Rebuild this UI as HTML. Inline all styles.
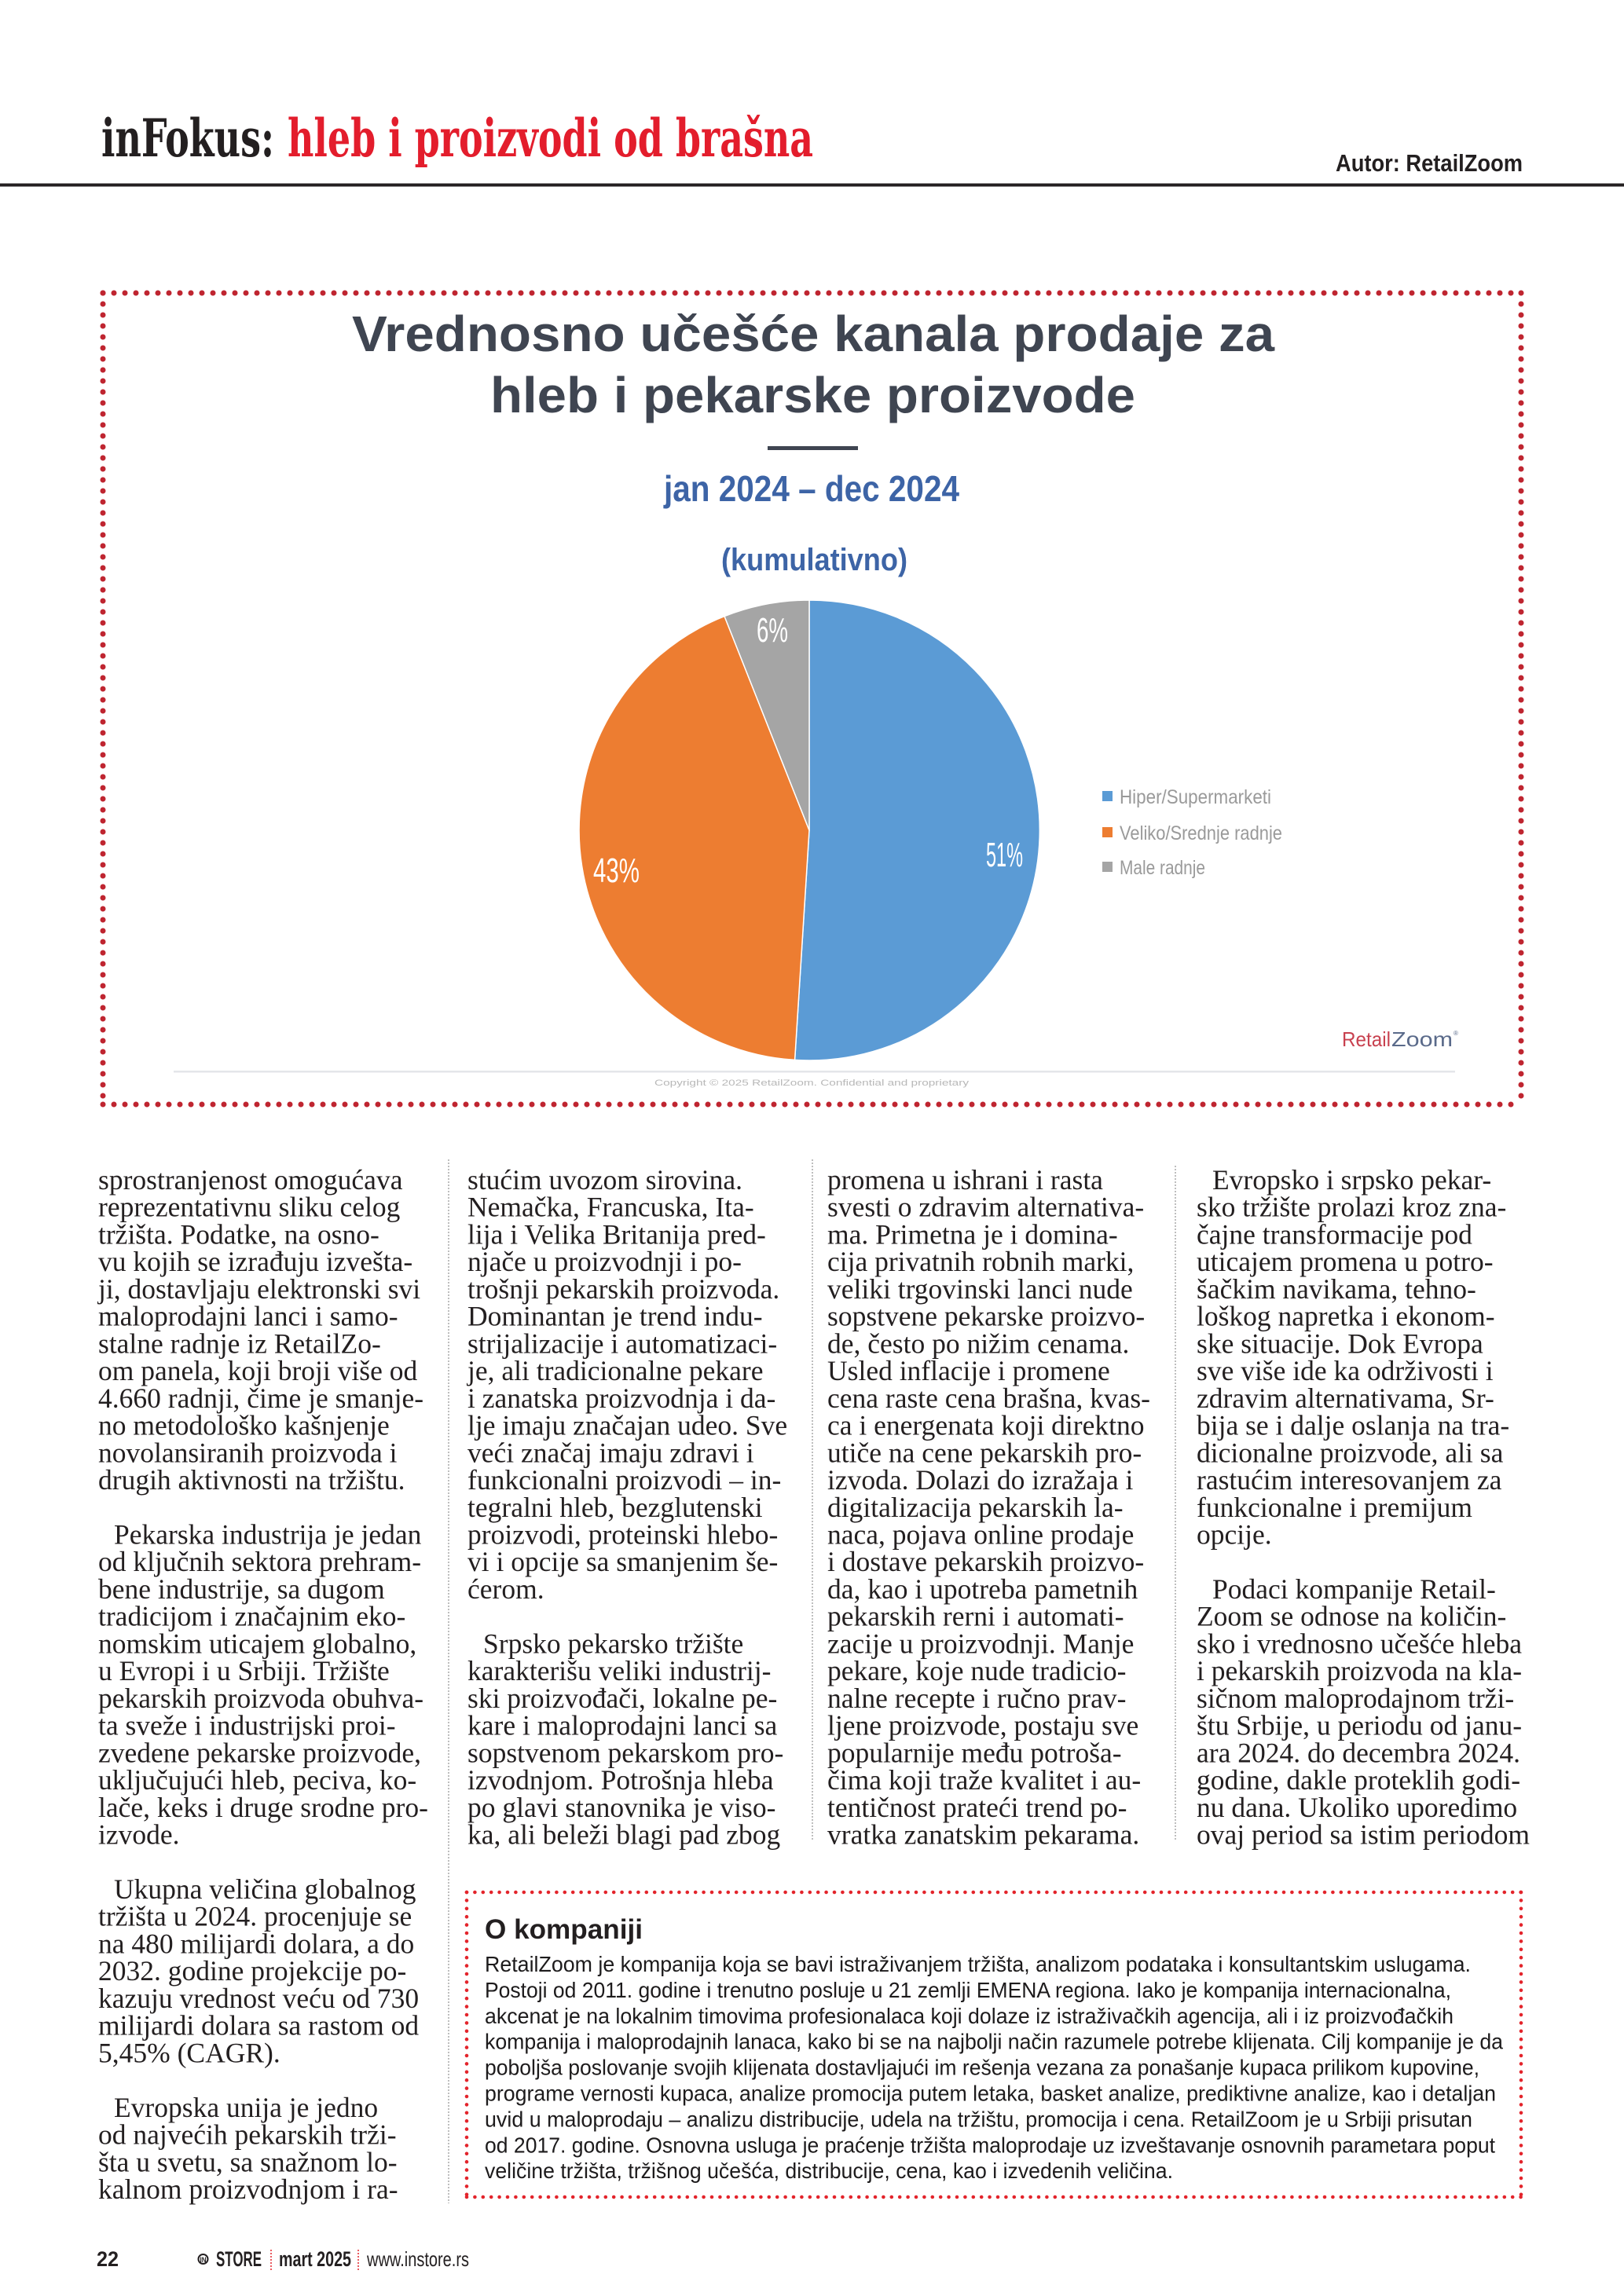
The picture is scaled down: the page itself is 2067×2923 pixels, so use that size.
<!DOCTYPE html>
<html>
<head>
<meta charset="utf-8">
<style>
html,body{margin:0;padding:0;background:#fff;}
svg{display:block;}
.b{font-family:"Liberation Serif","DejaVu Serif",serif;font-size:35.5px;fill:#231f20;}
.k{font-family:"Liberation Sans","DejaVu Sans",sans-serif;font-size:28px;fill:#1d1b1c;}
.lg{font-family:"Liberation Sans","DejaVu Sans",sans-serif;font-size:25px;fill:#9a9a9a;}
.pl{font-family:"Liberation Sans","DejaVu Sans",sans-serif;font-size:44px;fill:#ffffff;}
</style>
</head>
<body>
<svg width="2067" height="2923" viewBox="0 0 2067 2923" xmlns="http://www.w3.org/2000/svg">
<rect x="0" y="0" width="2067" height="2923" fill="#ffffff"/>

<!-- Header -->
<text x="129" y="199" font-family="DejaVu Serif, Liberation Serif, serif" font-weight="bold" font-size="66" fill="#231f20" textLength="220" lengthAdjust="spacingAndGlyphs">inFokus:</text>
<text x="366" y="199" font-family="DejaVu Serif, Liberation Serif, serif" font-weight="bold" font-size="66" fill="#e31d2c" textLength="669" lengthAdjust="spacingAndGlyphs">hleb i proizvodi od brašna</text>
<text x="1700" y="218" font-family="Liberation Sans, DejaVu Sans, sans-serif" font-weight="bold" font-size="31" fill="#231f20" textLength="238" lengthAdjust="spacingAndGlyphs">Autor: RetailZoom</text>
<rect x="0" y="233.5" width="2067" height="4" fill="#231f20"/>

<!-- Chart dotted box -->
<g stroke="#bf2530" stroke-width="7" stroke-linecap="round" stroke-dasharray="0 14" fill="none">
<line x1="131" y1="373" x2="1936" y2="373"/>
<line x1="131" y1="1406" x2="1936" y2="1406"/>
<line x1="131" y1="373" x2="131" y2="1406"/>
<line x1="1936" y1="373" x2="1936" y2="1406"/>
</g>

<!-- Chart title -->
<text x="448" y="447" font-family="Liberation Sans, DejaVu Sans, sans-serif" font-weight="bold" font-size="64" fill="#3f4551" textLength="1174" lengthAdjust="spacingAndGlyphs">Vrednosno učešće kanala prodaje za</text>
<text x="624" y="525" font-family="Liberation Sans, DejaVu Sans, sans-serif" font-weight="bold" font-size="64" fill="#3f4551" textLength="821" lengthAdjust="spacingAndGlyphs">hleb i pekarske proizvode</text>
<rect x="977" y="568" width="115" height="5" fill="#3f4551"/>
<text x="845" y="638" font-family="Liberation Sans, DejaVu Sans, sans-serif" font-weight="bold" font-size="46" fill="#3d64a6" textLength="376" lengthAdjust="spacingAndGlyphs">jan 2024 – dec 2024</text>
<text x="918" y="726" font-family="Liberation Sans, DejaVu Sans, sans-serif" font-weight="bold" font-size="40" fill="#3d64a6" textLength="237" lengthAdjust="spacingAndGlyphs">(kumulativno)</text>

<!-- Pie -->
<g stroke="#ffffff" stroke-width="1.5" stroke-linejoin="round">
<path d="M1030,1057 L1030,764 A293,293 0 1 1 1011.6,1349.4 Z" fill="#5b9bd5"/>
<path d="M1030,1057 L1011.6,1349.4 A293,293 0 0 1 922.1,784.6 Z" fill="#ed7d31"/>
<path d="M1030,1057 L922.1,784.6 A293,293 0 0 1 1030,764 Z" fill="#a5a5a5"/>
</g>
<text class="pl" x="1255" y="1103" textLength="47" lengthAdjust="spacingAndGlyphs">51%</text>
<text class="pl" x="755" y="1123" textLength="59" lengthAdjust="spacingAndGlyphs">43%</text>
<text class="pl" x="963" y="817" textLength="40" lengthAdjust="spacingAndGlyphs">6%</text>

<!-- Legend -->
<rect x="1403" y="1007" width="13" height="13" fill="#5b9bd5"/>
<rect x="1403" y="1053" width="13" height="13" fill="#ed7d31"/>
<rect x="1403" y="1097" width="13" height="13" fill="#a5a5a5"/>
<text class="lg" x="1425" y="1023" textLength="193" lengthAdjust="spacingAndGlyphs">Hiper/Supermarketi</text>
<text class="lg" x="1425" y="1069" textLength="207" lengthAdjust="spacingAndGlyphs">Veliko/Srednje radnje</text>
<text class="lg" x="1425" y="1113" textLength="109" lengthAdjust="spacingAndGlyphs">Male radnje</text>

<!-- Logo & footer line -->
<text x="1708" y="1332" font-family="Liberation Sans, DejaVu Sans, sans-serif" font-size="26" fill="#c8414f" textLength="62" lengthAdjust="spacingAndGlyphs">Retail</text>
<text x="1771" y="1332" font-family="Liberation Sans, DejaVu Sans, sans-serif" font-size="26" fill="#5a6a8a" textLength="78" lengthAdjust="spacingAndGlyphs">Zoom</text>
<text x="1850" y="1318" font-family="Liberation Sans, sans-serif" font-size="8" fill="#5a6a8a">®</text>
<rect x="221" y="1363" width="1631" height="2.5" fill="#e4e6ea"/>
<text x="833" y="1382" font-family="Liberation Sans, DejaVu Sans, sans-serif" font-size="11" fill="#b8b8b8" textLength="400" lengthAdjust="spacingAndGlyphs">Copyright © 2025 RetailZoom. Confidential and proprietary</text>

<!-- Column separators -->
<g stroke="#a8a8a8" stroke-width="1.5" stroke-dasharray="2 2">
<line x1="571" y1="1476" x2="571" y2="2805"/>
<line x1="1034" y1="1476" x2="1034" y2="2342"/>
<line x1="1496" y1="1484" x2="1496" y2="2342"/>
</g>

<!-- Column 1 -->
<text class="b">
<tspan x="125" y="1514">sprostranjenost omogućava</tspan>
<tspan x="125" y="1548.73">reprezentativnu sliku celog</tspan>
<tspan x="125" y="1583.46">tržišta. Podatke, na osno-</tspan>
<tspan x="125" y="1618.19">vu kojih se izrađuju izvešta-</tspan>
<tspan x="125" y="1652.92">ji, dostavljaju elektronski svi</tspan>
<tspan x="125" y="1687.65">maloprodajni lanci i samo-</tspan>
<tspan x="125" y="1722.38">stalne radnje iz RetailZo-</tspan>
<tspan x="125" y="1757.11">om panela, koji broji više od</tspan>
<tspan x="125" y="1791.84">4.660 radnji, čime je smanje-</tspan>
<tspan x="125" y="1826.57">no metodološko kašnjenje</tspan>
<tspan x="125" y="1861.3">novolansiranih proizvoda i</tspan>
<tspan x="125" y="1896.03">drugih aktivnosti na tržištu.</tspan>
<tspan x="145" y="1965.49">Pekarska industrija je jedan</tspan>
<tspan x="125" y="2000.22">od ključnih sektora prehram-</tspan>
<tspan x="125" y="2034.95">bene industrije, sa dugom</tspan>
<tspan x="125" y="2069.68">tradicijom i značajnim eko-</tspan>
<tspan x="125" y="2104.41">nomskim uticajem globalno,</tspan>
<tspan x="125" y="2139.14">u Evropi i u Srbiji. Tržište</tspan>
<tspan x="125" y="2173.87">pekarskih proizvoda obuhva-</tspan>
<tspan x="125" y="2208.6">ta sveže i industrijski proi-</tspan>
<tspan x="125" y="2243.33">zvedene pekarske proizvode,</tspan>
<tspan x="125" y="2278.06">uključujući hleb, peciva, ko-</tspan>
<tspan x="125" y="2312.79">lače, keks i druge srodne pro-</tspan>
<tspan x="125" y="2347.52">izvode.</tspan>
<tspan x="145" y="2416.98">Ukupna veličina globalnog</tspan>
<tspan x="125" y="2451.71">tržišta u 2024. procenjuje se</tspan>
<tspan x="125" y="2486.44">na 480 milijardi dolara, a do</tspan>
<tspan x="125" y="2521.17">2032. godine projekcije po-</tspan>
<tspan x="125" y="2555.9">kazuju vrednost veću od 730</tspan>
<tspan x="125" y="2590.63">milijardi dolara sa rastom od</tspan>
<tspan x="125" y="2625.36">5,45% (CAGR).</tspan>
<tspan x="145" y="2694.82">Evropska unija je jedno</tspan>
<tspan x="125" y="2729.55">od najvećih pekarskih trži-</tspan>
<tspan x="125" y="2764.28">šta u svetu, sa snažnom lo-</tspan>
<tspan x="125" y="2799.01">kalnom proizvodnjom i ra-</tspan>
</text>

<!-- Column 2 -->
<text class="b">
<tspan x="595" y="1514">stućim uvozom sirovina.</tspan>
<tspan x="595" y="1548.73">Nemačka, Francuska, Ita-</tspan>
<tspan x="595" y="1583.46">lija i Velika Britanija pred-</tspan>
<tspan x="595" y="1618.19">njače u proizvodnji i po-</tspan>
<tspan x="595" y="1652.92">trošnji pekarskih proizvoda.</tspan>
<tspan x="595" y="1687.65">Dominantan je trend indu-</tspan>
<tspan x="595" y="1722.38">strijalizacije i automatizaci-</tspan>
<tspan x="595" y="1757.11">je, ali tradicionalne pekare</tspan>
<tspan x="595" y="1791.84">i zanatska proizvodnja i da-</tspan>
<tspan x="595" y="1826.57">lje imaju značajan udeo. Sve</tspan>
<tspan x="595" y="1861.3">veći značaj imaju zdravi i</tspan>
<tspan x="595" y="1896.03">funkcionalni proizvodi – in-</tspan>
<tspan x="595" y="1930.76">tegralni hleb, bezglutenski</tspan>
<tspan x="595" y="1965.49">proizvodi, proteinski hlebo-</tspan>
<tspan x="595" y="2000.22">vi i opcije sa smanjenim še-</tspan>
<tspan x="595" y="2034.95">ćerom.</tspan>
<tspan x="615" y="2104.41">Srpsko pekarsko tržište</tspan>
<tspan x="595" y="2139.14">karakterišu veliki industrij-</tspan>
<tspan x="595" y="2173.87">ski proizvođači, lokalne pe-</tspan>
<tspan x="595" y="2208.6">kare i maloprodajni lanci sa</tspan>
<tspan x="595" y="2243.33">sopstvenom pekarskom pro-</tspan>
<tspan x="595" y="2278.06">izvodnjom. Potrošnja hleba</tspan>
<tspan x="595" y="2312.79">po glavi stanovnika je viso-</tspan>
<tspan x="595" y="2347.52">ka, ali beleži blagi pad zbog</tspan>
</text>

<!-- Column 3 -->
<text class="b">
<tspan x="1053" y="1514">promena u ishrani i rasta</tspan>
<tspan x="1053" y="1548.73">svesti o zdravim alternativa-</tspan>
<tspan x="1053" y="1583.46">ma. Primetna je i domina-</tspan>
<tspan x="1053" y="1618.19">cija privatnih robnih marki,</tspan>
<tspan x="1053" y="1652.92">veliki trgovinski lanci nude</tspan>
<tspan x="1053" y="1687.65">sopstvene pekarske proizvo-</tspan>
<tspan x="1053" y="1722.38">de, često po nižim cenama.</tspan>
<tspan x="1053" y="1757.11">Usled inflacije i promene</tspan>
<tspan x="1053" y="1791.84">cena raste cena brašna, kvas-</tspan>
<tspan x="1053" y="1826.57">ca i energenata koji direktno</tspan>
<tspan x="1053" y="1861.3">utiče na cene pekarskih pro-</tspan>
<tspan x="1053" y="1896.03">izvoda. Dolazi do izražaja i</tspan>
<tspan x="1053" y="1930.76">digitalizacija pekarskih la-</tspan>
<tspan x="1053" y="1965.49">naca, pojava online prodaje</tspan>
<tspan x="1053" y="2000.22">i dostave pekarskih proizvo-</tspan>
<tspan x="1053" y="2034.95">da, kao i upotreba pametnih</tspan>
<tspan x="1053" y="2069.68">pekarskih rerni i automati-</tspan>
<tspan x="1053" y="2104.41">zacije u proizvodnji. Manje</tspan>
<tspan x="1053" y="2139.14">pekare, koje nude tradicio-</tspan>
<tspan x="1053" y="2173.87">nalne recepte i ručno prav-</tspan>
<tspan x="1053" y="2208.6">ljene proizvode, postaju sve</tspan>
<tspan x="1053" y="2243.33">popularnije među potroša-</tspan>
<tspan x="1053" y="2278.06">čima koji traže kvalitet i au-</tspan>
<tspan x="1053" y="2312.79">tentičnost prateći trend po-</tspan>
<tspan x="1053" y="2347.52">vratka zanatskim pekarama.</tspan>
</text>

<!-- Column 4 -->
<text class="b">
<tspan x="1543" y="1514">Evropsko i srpsko pekar-</tspan>
<tspan x="1523" y="1548.73">sko tržište prolazi kroz zna-</tspan>
<tspan x="1523" y="1583.46">čajne transformacije pod</tspan>
<tspan x="1523" y="1618.19">uticajem promena u potro-</tspan>
<tspan x="1523" y="1652.92">šačkim navikama, tehno-</tspan>
<tspan x="1523" y="1687.65">loškog napretka i ekonom-</tspan>
<tspan x="1523" y="1722.38">ske situacije. Dok Evropa</tspan>
<tspan x="1523" y="1757.11">sve više ide ka održivosti i</tspan>
<tspan x="1523" y="1791.84">zdravim alternativama, Sr-</tspan>
<tspan x="1523" y="1826.57">bija se i dalje oslanja na tra-</tspan>
<tspan x="1523" y="1861.3">dicionalne proizvode, ali sa</tspan>
<tspan x="1523" y="1896.03">rastućim interesovanjem za</tspan>
<tspan x="1523" y="1930.76">funkcionalne i premijum</tspan>
<tspan x="1523" y="1965.49">opcije.</tspan>
<tspan x="1543" y="2034.95">Podaci kompanije Retail-</tspan>
<tspan x="1523" y="2069.68">Zoom se odnose na količin-</tspan>
<tspan x="1523" y="2104.41">sko i vrednosno učešće hleba</tspan>
<tspan x="1523" y="2139.14">i pekarskih proizvoda na kla-</tspan>
<tspan x="1523" y="2173.87">sičnom maloprodajnom trži-</tspan>
<tspan x="1523" y="2208.6">štu Srbije, u periodu od janu-</tspan>
<tspan x="1523" y="2243.33">ara 2024. do decembra 2024.</tspan>
<tspan x="1523" y="2278.06">godine, dakle proteklih godi-</tspan>
<tspan x="1523" y="2312.79">nu dana. Ukoliko uporedimo</tspan>
<tspan x="1523" y="2347.52">ovaj period sa istim periodom</tspan>
</text>

<!-- O kompaniji box -->
<g stroke="#e3242b" stroke-width="4.6" stroke-linecap="round" stroke-dasharray="0 10.4" fill="none">
<line x1="594" y1="2409" x2="1936" y2="2409"/>
<line x1="594" y1="2797" x2="1936" y2="2797"/>
<line x1="594" y1="2409" x2="594" y2="2797"/>
<line x1="1936" y1="2409" x2="1936" y2="2797"/>
</g>
<text x="617" y="2468" font-family="Liberation Sans, DejaVu Sans, sans-serif" font-weight="bold" font-size="35" fill="#231f20" textLength="201" lengthAdjust="spacingAndGlyphs">O kompaniji</text>
<text class="k" x="617" y="2510" textLength="1255" lengthAdjust="spacingAndGlyphs">RetailZoom je kompanija koja se bavi istraživanjem tržišta, analizom podataka i konsultantskim uslugama.</text>
<text class="k" x="617" y="2542.9" textLength="1230" lengthAdjust="spacingAndGlyphs">Postoji od 2011. godine i trenutno posluje u 21 zemlji EMENA regiona. Iako je kompanija internacionalna,</text>
<text class="k" x="617" y="2575.8" textLength="1233" lengthAdjust="spacingAndGlyphs">akcenat je na lokalnim timovima profesionalaca koji dolaze iz istraživačkih agencija, ali i iz proizvođačkih</text>
<text class="k" x="617" y="2608.7" textLength="1296" lengthAdjust="spacingAndGlyphs">kompanija i maloprodajnih lanaca, kako bi se na najbolji način razumele potrebe klijenata. Cilj kompanije je da</text>
<text class="k" x="617" y="2641.6" textLength="1266" lengthAdjust="spacingAndGlyphs">poboljša poslovanje svojih klijenata dostavljajući im rešenja vezana za ponašanje kupaca prilikom kupovine,</text>
<text class="k" x="617" y="2674.5" textLength="1287" lengthAdjust="spacingAndGlyphs">programe vernosti kupaca, analize promocija putem letaka, basket analize, prediktivne analize, kao i detaljan</text>
<text class="k" x="617" y="2707.4" textLength="1257" lengthAdjust="spacingAndGlyphs">uvid u maloprodaju – analizu distribucije, udela na tržištu, promocija i cena. RetailZoom je u Srbiji prisutan</text>
<text class="k" x="617" y="2740.3" textLength="1286" lengthAdjust="spacingAndGlyphs">od 2017. godine. Osnovna usluga je praćenje tržišta maloprodaje uz izveštavanje osnovnih parametara poput</text>
<text class="k" x="617" y="2773.2" textLength="876" lengthAdjust="spacingAndGlyphs">veličine tržišta, tržišnog učešća, distribucije, cena, kao i izvedenih veličina.</text>

<!-- Footer -->
<text x="123" y="2885" font-family="Liberation Sans, DejaVu Sans, sans-serif" font-weight="bold" font-size="27" fill="#231f20" textLength="28" lengthAdjust="spacingAndGlyphs">22</text>
<circle cx="258.5" cy="2876" r="6" fill="none" stroke="#231f20" stroke-width="2"/>
<text x="254.5" y="2880" font-family="Liberation Sans, sans-serif" font-weight="bold" font-size="9" fill="#231f20" textLength="8" lengthAdjust="spacingAndGlyphs">IN</text>
<text x="275" y="2885" font-family="Liberation Sans, DejaVu Sans, sans-serif" font-weight="bold" font-size="27" fill="#231f20" textLength="58" lengthAdjust="spacingAndGlyphs">STORE</text>
<line x1="345" y1="2864" x2="345" y2="2890" stroke="#e3242b" stroke-width="1.5" stroke-dasharray="2 2"/>
<text x="355" y="2885" font-family="Liberation Sans, DejaVu Sans, sans-serif" font-weight="bold" font-size="27" fill="#231f20" textLength="92" lengthAdjust="spacingAndGlyphs">mart 2025</text>
<line x1="456" y1="2864" x2="456" y2="2890" stroke="#e3242b" stroke-width="1.5" stroke-dasharray="2 2"/>
<text x="467" y="2885" font-family="Liberation Sans, DejaVu Sans, sans-serif" font-size="26" fill="#231f20" textLength="130" lengthAdjust="spacingAndGlyphs">www.instore.rs</text>
</svg>
</body>
</html>
